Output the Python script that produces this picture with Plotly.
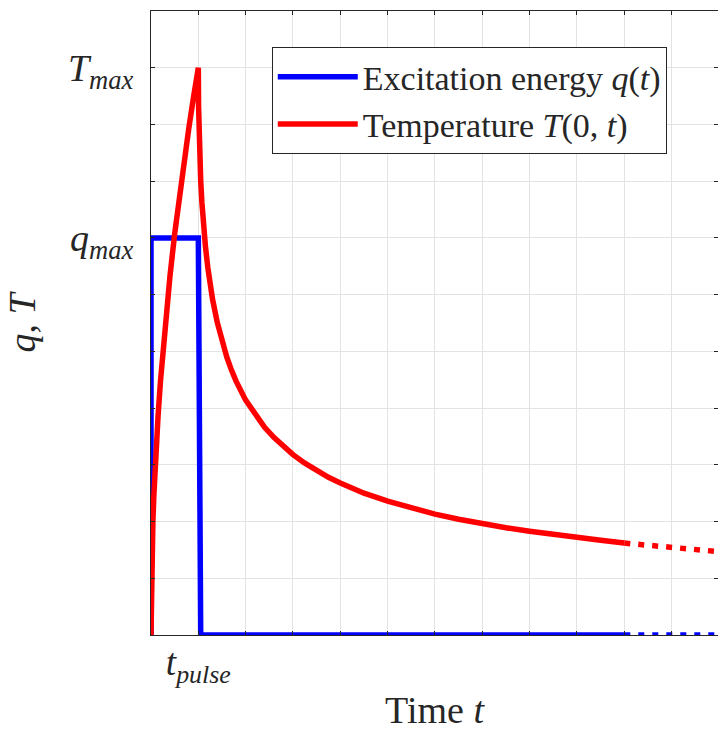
import plotly.graph_objects as go

# ---- data ----
t_pulse = 1.0
q_max = 7.0
T_max = 10.0

q_t = [0.0, 0.0, 1.0, 1.05, 10.0]
q_v = [0.0, 7.0, 7.0, 0.0, 0.0]
q_t_dot = [10.0, 12.0]
q_v_dot = [0.0, 0.0]

T_t = [0.0, 0.005, 0.01, 0.02, 0.04, 0.06, 0.08, 0.1, 0.15, 0.2, 0.25, 0.3, 0.4,
       0.5, 0.6, 0.7, 0.8, 0.9, 1.0,
       1.005, 1.01, 1.02, 1.03, 1.05, 1.075, 1.1, 1.15, 1.2, 1.25, 1.3, 1.4, 1.5,
       1.6, 1.7, 1.8, 2.0, 2.2, 2.4, 2.6, 2.8, 3.0, 3.25, 3.5, 3.75, 4.0, 4.5,
       5.0, 5.5, 6.0, 6.5, 7.0, 7.5, 8.0, 8.5, 9.0, 9.5, 10.0]
T_v = [0.0, 0.71, 1.0, 1.41, 2.0, 2.45, 2.83, 3.16, 3.87, 4.47, 5.0, 5.48, 6.32,
       7.07, 7.75, 8.37, 8.94, 9.49, 10.0,
       9.32, 9.05, 8.69, 8.42, 8.01, 7.63, 7.33, 6.85, 6.48, 6.18, 5.92, 5.51, 5.18,
       4.90, 4.67, 4.47, 4.14, 3.88, 3.66, 3.48, 3.32, 3.18, 3.03, 2.90, 2.78, 2.68, 2.50,
       2.36, 2.24, 2.13, 2.04, 1.96, 1.89, 1.83, 1.77, 1.72, 1.67, 1.62]
T_t_dot = [10.0, 11.0, 12.0]
T_v_dot = [1.62, 1.54, 1.47]

x_ticks = list(range(0, 13))
x_ticktext = ["" if v != t_pulse else "<i>t</i><sub><i>pulse</i></sub>" for v in x_ticks]
y_ticks = list(range(0, 12))
y_ticktext = []
for v in y_ticks:
    if v == T_max:
        y_ticktext.append("<i>T</i><sub><i>max</i></sub>")
    elif v == q_max:
        y_ticktext.append("<i>q</i><sub><i>max</i></sub>")
    else:
        y_ticktext.append("")

BLUE = "#0000ff"
RED = "#ff0000"
FONT = "Liberation Serif"
INK = "#262626"
LW = 5.5

fig = go.Figure()
fig.add_trace(go.Scatter(x=q_t, y=q_v, mode="lines", line=dict(color=BLUE, width=LW),
                         cliponaxis=False,
                         name="Excitation energy <i>q</i>(<i>t</i>)"))
fig.add_trace(go.Scatter(x=T_t, y=T_v, mode="lines", line=dict(color=RED, width=LW),
                         cliponaxis=False,
                         name="Temperature <i>T</i>(0, <i>t</i>)"))
fig.add_trace(go.Scatter(x=q_t_dot, y=q_v_dot, mode="lines", cliponaxis=False,
                         line=dict(color=BLUE, width=LW, dash="6px,8px"), showlegend=False))
fig.add_trace(go.Scatter(x=T_t_dot, y=T_v_dot, mode="lines", cliponaxis=False,
                         line=dict(color=RED, width=LW, dash="6px,8px"), showlegend=False))

axis_common = dict(
    showgrid=True, gridcolor="#e3e3e3", gridwidth=1,
    showline=True, linecolor=INK, linewidth=1, mirror="ticks",
    ticks="inside", ticklen=4, tickcolor=INK, tickwidth=1,
    zeroline=False, automargin=False,
)

fig.update_xaxes(range=[0, 11.98], tickmode="array", tickvals=x_ticks, ticktext=x_ticktext,
                 tickfont=dict(family=FONT, size=37, color=INK),
                 title=dict(text="Time <i>t</i>", font=dict(family=FONT, size=38, color=INK),
                            standoff=16),
                 ticklabelstandoff=-5, **axis_common)
fig.update_yaxes(range=[0, 11], tickmode="array", tickvals=y_ticks, ticktext=y_ticktext,
                 tickfont=dict(family=FONT, size=38, color=INK),
                 title=dict(text="<i>q</i>, <i>T</i>", font=dict(family=FONT, size=38, color=INK),
                            standoff=20),
                 ticklabelstandoff=9, **axis_common)

fig.update_layout(
    width=718, height=731, autosize=False,
    margin=dict(l=151, r=0, t=11, b=96, pad=0),
    plot_bgcolor="white", paper_bgcolor="white",
    font=dict(family=FONT, color=INK),
    legend=dict(x=0.213, y=0.942, xanchor="left", yanchor="top",
                bgcolor="white", bordercolor=INK, borderwidth=1,
                font=dict(family=FONT, size=34, color=INK),
                itemwidth=80, tracegroupgap=0),
)

fig.write_html("out.html")
